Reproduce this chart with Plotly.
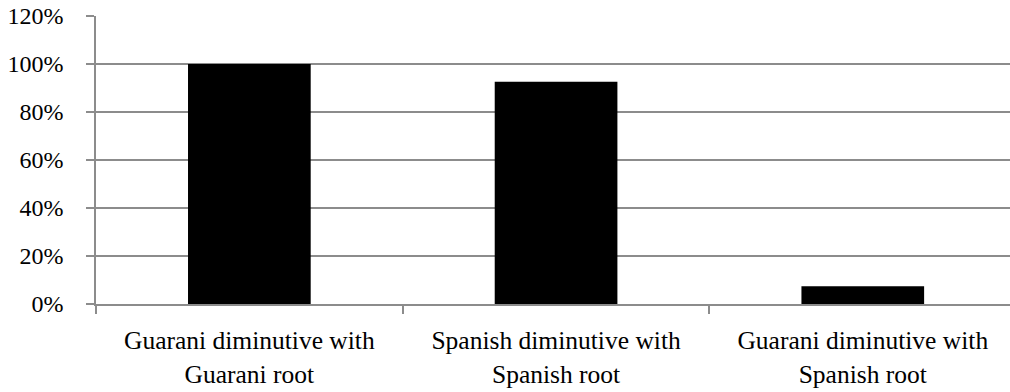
import plotly.graph_objects as go

categories = [
    "Guarani diminutive with<br>Guarani root",
    "Spanish diminutive with<br>Spanish root",
    "Guarani diminutive with<br>Spanish root",
]
shares = [100.0, 92.6, 7.4]
y_ticks = [0, 20, 40, 60, 80, 100, 120]

grid = "#8c8c8c"
serif = "Liberation Serif, Times New Roman, serif"
y_font = dict(family=serif, size=24, color="#000000")
x_font = dict(family=serif, size=25.5, color="#000000")

fig = go.Figure(
    go.Bar(
        x=categories,
        y=shares,
        width=0.4,
        marker=dict(color="#000000", line=dict(width=0)),
    )
)

fig.update_layout(
    width=1010,
    height=392,
    margin=dict(l=96, r=0, t=16, b=88),
    paper_bgcolor="#ffffff",
    plot_bgcolor="#ffffff",
    font=y_font,
    showlegend=False,
)

fig.update_xaxes(
    type="category",
    range=[-0.5, 2.48],
    showgrid=False,
    showline=True,
    linecolor=grid,
    linewidth=1.5,
    ticks="outside",
    tickson="boundaries",
    ticklen=8,
    tickwidth=1.5,
    tickcolor=grid,
    tickfont=x_font,
    ticklabelstandoff=13,
)

fig.update_yaxes(
    range=[0, 120],
    tickvals=y_ticks,
    ticktext=[f"{v}%" for v in y_ticks],
    showgrid=True,
    gridcolor=grid,
    gridwidth=1.5,
    zeroline=False,
    showline=True,
    linecolor=grid,
    linewidth=1.5,
    ticks="outside",
    ticklen=8,
    tickwidth=1.5,
    tickcolor=grid,
    tickfont=y_font,
    ticklabelstandoff=18,
)

fig.write_html("out.html")
